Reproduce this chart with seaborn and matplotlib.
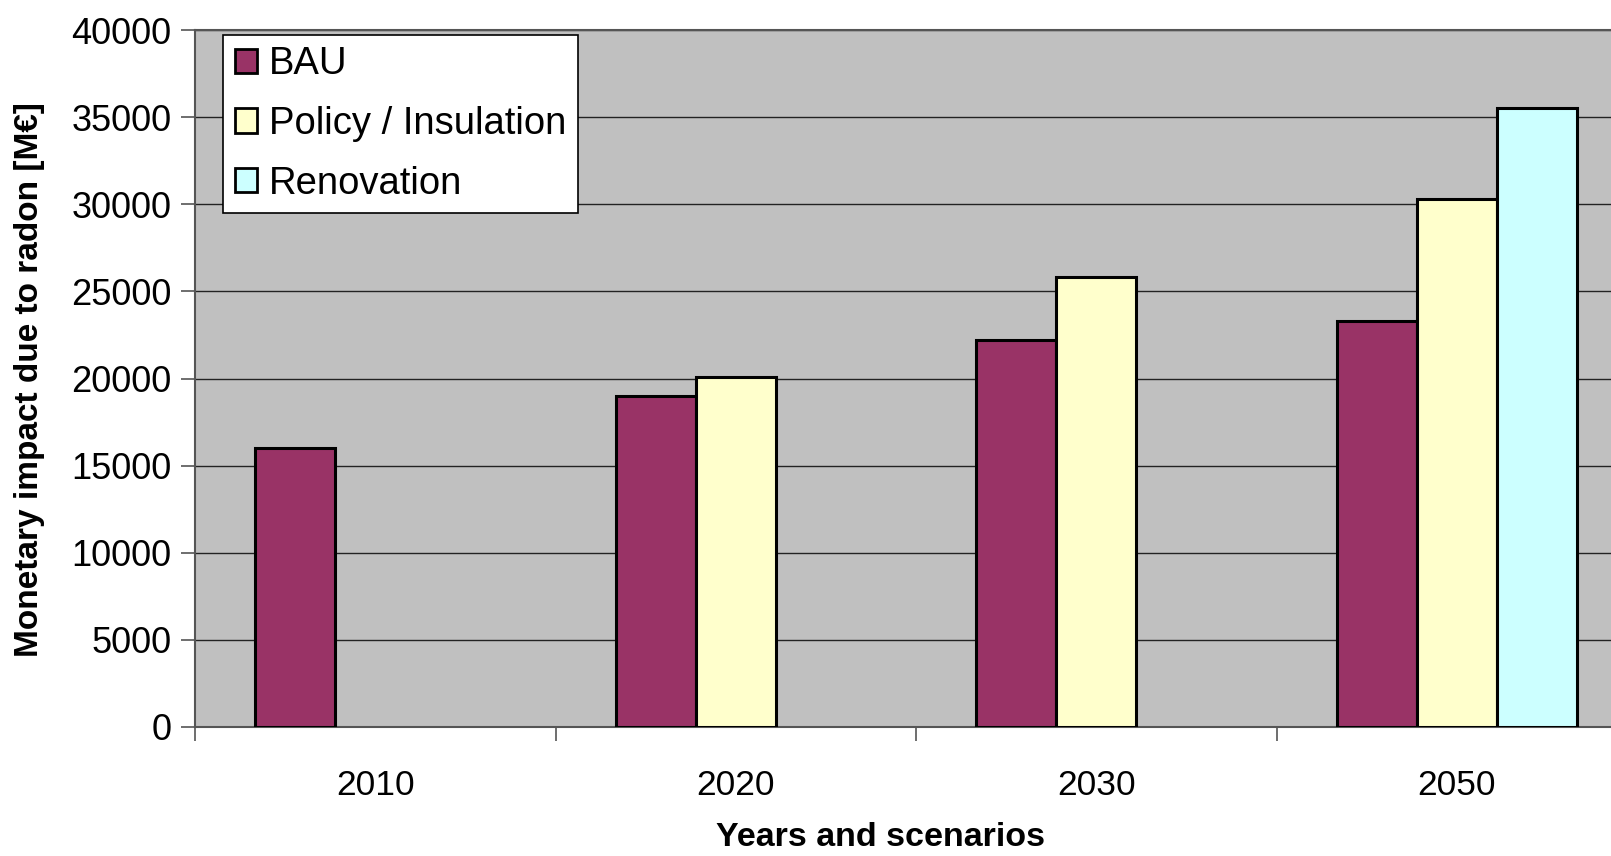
import matplotlib
matplotlib.use("Agg")
import matplotlib.pyplot as plt
from matplotlib.ticker import FixedLocator
import seaborn as sns
import pandas as pd

# Monetary impact due to radon, by year and scenario (M€)
years = ["2010", "2020", "2030", "2050"]
scenarios = ["BAU", "Policy / Insulation", "Renovation"]
bau = [16000, 19000, 22200, 23300]
policy = [None, 20100, 25800, 30300]
renovation = [None, None, None, 35500]
colors = ["#993366", "#FFFFCC", "#CCFFFF"]
yticks = [0, 5000, 10000, 15000, 20000, 25000, 30000, 35000, 40000]

rows = []
for series, name in zip([bau, policy, renovation], scenarios):
    for yr, v in zip(years, series):
        if v is not None:
            rows.append({"year": yr, "scenario": name, "value": v})
df = pd.DataFrame(rows)

sns.set_style("white")
plt.rcParams["font.family"] = ["Liberation Sans", "DejaVu Sans"]
plt.rcParams["text.color"] = "black"
plt.rcParams["axes.labelcolor"] = "black"
plt.rcParams["xtick.labelcolor"] = "black"
plt.rcParams["ytick.labelcolor"] = "black"

fig = plt.figure(figsize=(16.11, 8.56), dpi=100)
ax = fig.add_axes([195 / 1611, 1 - 727 / 856, 1442 / 1611, 697 / 856])
ax.set_facecolor("#C0C0C0")

sns.barplot(data=df, x="year", y="value", hue="scenario",
            order=years, hue_order=scenarios, palette=colors,
            width=0.667, edgecolor="black", linewidth=2.2,
            saturation=1, ax=ax, zorder=3)

ax.set_xlim(-0.5, 3.5)
ax.set_ylim(0, 40000)
ax.set_yticks(yticks)
ax.set_yticklabels([str(t) for t in yticks])
ax.yaxis.grid(True, color="#222222", linewidth=1.0, zorder=0)
ax.set_axisbelow(True)

# category separators as downward ticks
ax.xaxis.set_minor_locator(FixedLocator([-0.5, 0.5, 1.5, 2.5]))
ax.tick_params(axis="x", which="major", length=0, pad=30, labelsize=25.5, labelcolor="black")
ax.tick_params(axis="x", which="minor", length=10, width=1.2, color="#555555", direction="out", bottom=True)
ax.tick_params(axis="y", which="major", length=10, width=1.2, color="#555555", direction="out", left=True, pad=7, labelsize=26, labelcolor="black")

for side in ["left", "bottom", "top", "right"]:
    ax.spines[side].set_color("#555555")
    ax.spines[side].set_linewidth(1.5)

ax.set_xlabel("Years and scenarios", fontsize=24.5, fontweight="bold", color="black")
ax.xaxis.set_label_coords((880 - 195) / 1442, -0.137)
ax.set_ylabel("Monetary impact due to radon [M€]", fontsize=24, fontweight="bold", color="black")
ax.yaxis.set_label_coords(-0.104, 0.498)

leg = ax.legend(loc="upper left", bbox_to_anchor=(0.0195, 0.993), fontsize=27.5,
                frameon=True, fancybox=False, framealpha=1, edgecolor="black",
                handlelength=0.6, handleheight=0.6, handletextpad=0.3,
                labelspacing=0.62, borderpad=0.3, borderaxespad=0)
leg.get_frame().set_linewidth(1.2)
for t in leg.get_texts():
    t.set_color("black")
for h in leg.legend_handles:
    h.set_linewidth(2)
    h.set_edgecolor("black")

fig.savefig("out.png", dpi=100)
